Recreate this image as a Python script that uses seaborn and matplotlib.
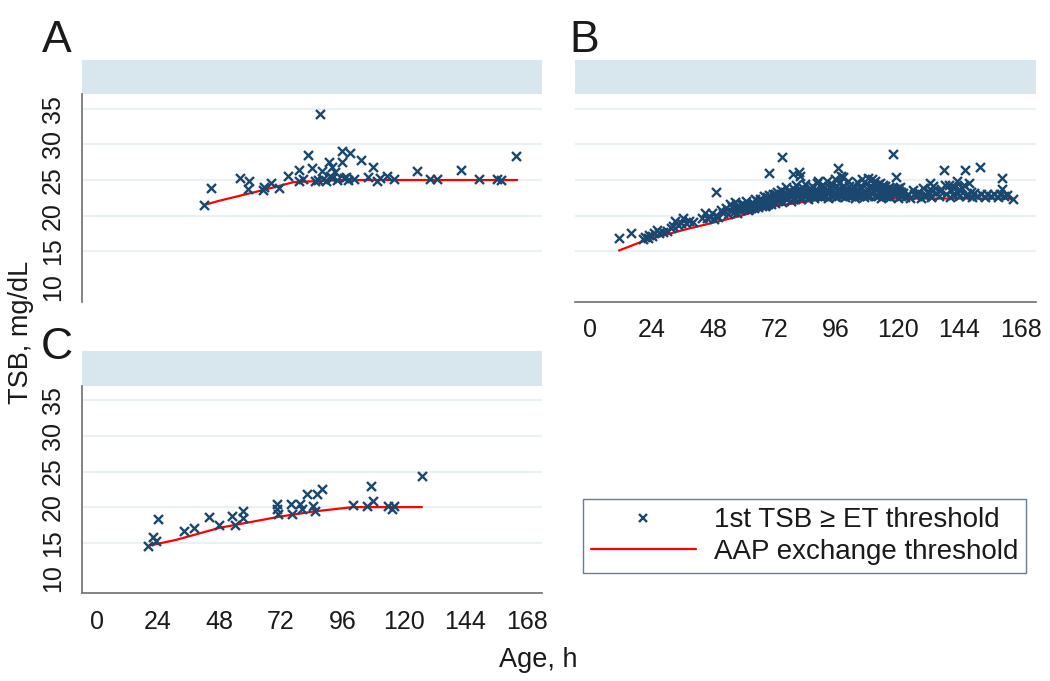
import seaborn as sns
import matplotlib.pyplot as plt
from matplotlib.lines import Line2D

# ============================================================
# 1. DATA
# ============================================================
# Panel A - first TSB at/above exchange threshold
a_age = [42.0, 44.5, 56.0, 59.5, 59.0, 65.1, 68.0, 65.5, 71.2, 74.8,
         78.8, 79.0, 82.4, 84.0, 87.0, 85.2, 86.5, 87.9, 88.5, 89.5,
         90.7, 91.8, 93.1, 92.0, 94.0, 95.9, 95.9, 96.7, 98.0, 98.9,
         97.5, 103.2, 105.9, 108.0, 109.4, 110.5, 113.5, 116.0, 125.0,
         130.2, 133.0, 142.2, 149.3, 156.3, 158.0, 163.8, 80.5, 91.0, 100.5]
a_tsb = [21.5, 23.9, 25.3, 24.9, 23.7, 23.6, 24.6, 24.0, 23.9, 25.6,
         24.9, 26.4, 28.5, 26.7, 34.3, 24.8, 25.0, 26.2, 25.2, 24.9,
         27.5, 26.8, 26.1, 25.3, 25.0, 29.1, 27.6, 25.3, 25.0, 28.8,
         25.4, 27.8, 25.4, 26.9, 24.9, 25.3, 25.6, 25.1, 26.2,
         25.1, 25.1, 26.4, 25.1, 25.1, 25.0, 28.4, 25.1, 25.6, 25.2]
a_line_age = [42.0, 48.0, 65.1, 76.8, 95.0, 164.2]
a_line_tsb = [21.5, 22.1, 23.6, 24.7, 25.0, 25.0]

# Panel B
b_age = [11.3, 16.0, 20.5, 21.5, 22.5, 23.0, 24.0, 25.0, 26.2, 27.0,
         28.5, 30.0, 31.5, 32.5, 33.1, 34.3, 35.5, 36.4, 37.5, 38.6,
         40.0, 43.5, 44.7, 45.5, 46.7, 47.5, 48.2, 49.0, 49.2, 50.0,
         51.2, 52.0,
         53.0, 54.0, 54.5, 55.0, 55.5, 56.0, 56.5, 57.0, 57.5, 58.0,
         58.5, 59.0, 59.6, 60.0, 60.5, 61.0, 61.5, 62.2, 62.5, 63.0,
         63.5, 64.0, 64.5, 65.0, 65.5, 66.0, 66.5, 67.0, 67.5, 68.0,
         68.5, 69.0, 69.5, 69.8, 70.0, 70.5, 71.0, 71.5, 72.0, 72.5,
         73.0, 73.5, 74.0, 74.5, 75.0, 75.0, 75.5, 76.0, 76.5, 77.0,
         77.5, 78.0, 78.5, 79.1, 79.0, 79.5, 80.0, 80.5, 81.0, 81.6,
         81.9, 82.0, 82.5, 83.0, 83.5, 84.0, 84.5, 85.0, 85.5, 86.0,
         86.5, 87.0, 87.5, 88.4, 88.0, 88.5, 89.0, 89.5, 90.0, 90.5,
         91.0, 91.5, 92.0, 92.5, 93.0,
         93.5, 94.0, 94.5, 95.0, 95.5, 96.0, 96.8, 96.5, 97.0, 97.5,
         98.0, 98.7, 98.5, 99.0, 99.5, 100.0, 100.5, 101.0, 101.5, 102.0,
         102.5, 103.0, 103.5, 104.0, 104.5, 105.0, 105.5, 106.0, 106.5, 107.0,
         107.5, 108.0, 108.5, 109.0, 109.9, 110.0, 110.5, 111.0, 111.5, 112.0,
         112.5, 113.0, 113.5, 114.0, 114.5, 115.0, 115.5, 116.0, 116.5, 117.0,
         117.5, 118.1, 118.5, 119.3, 119.5, 120.0, 120.5, 121.0, 121.5, 122.0,
         123.0, 124.0, 125.0, 126.0, 127.0, 128.0, 129.0, 130.0, 131.0, 132.0,
         132.6, 133.0, 134.0, 135.0, 136.0, 137.0, 138.1, 138.5, 139.0, 140.0,
         140.5, 141.0, 142.0, 143.0, 143.5, 144.0, 145.0, 146.0, 146.4, 147.0,
         148.0, 149.0, 150.0, 151.0, 152.1, 152.5, 154.0, 155.0, 156.5, 157.5,
         159.0, 160.0, 160.8, 160.8, 161.5, 162.5, 165.1,
         58.2, 60.2, 61.8, 63.2, 64.2, 65.8, 67.2, 68.2, 69.2, 70.2,
         71.2, 72.2, 73.2, 74.2, 75.2, 76.2, 77.2, 78.2, 79.2, 80.2,
         81.2, 82.2, 83.2, 84.2, 85.2, 86.2, 87.2, 88.2, 89.2, 90.2,
         91.2, 93.2, 94.2, 95.2, 96.2, 97.2, 98.2, 99.2, 100.2, 101.2,
         102.2, 103.2, 104.2, 105.2, 106.2, 107.2, 108.2, 109.2, 110.2, 111.2,
         112.2, 113.2, 114.2, 115.2, 116.2, 118.2, 119.0, 120.2, 121.2, 126.5,
         130.5, 133.5, 136.5, 141.5, 144.5, 146.8, 148.5]
b_tsb = [16.8, 17.5, 16.7, 17.0, 16.9, 17.3, 17.1, 17.6, 18.0, 17.6,
         17.7, 17.9, 18.3, 18.6, 19.3, 18.7, 18.9, 19.6, 19.0, 19.3,
         19.1, 19.7, 20.3, 19.7, 19.8, 20.4, 19.5, 23.3, 20.0, 19.8,
         20.8, 20.3,
         21.0, 20.2, 21.6, 20.6, 21.2, 20.5, 21.9, 21.0, 20.4, 21.4,
         20.8, 21.7, 21.6, 20.9, 21.2, 22.1, 20.8, 20.9, 21.5, 21.1,
         21.8, 21.0, 21.4, 22.0, 21.2, 21.6, 22.4, 21.3, 21.8, 22.7,
         21.5, 22.2, 21.6, 26.0, 22.9, 21.7, 22.4, 23.1, 21.8, 22.5,
         23.3, 22.0, 22.8, 23.6, 28.2, 21.9, 22.6, 23.2, 24.0, 22.3,
         22.9, 23.5, 22.1, 25.8, 23.0, 23.8, 22.4, 24.3, 22.8, 26.1,
         25.5, 23.4, 22.3, 23.9, 22.7, 24.5, 23.2, 22.4, 23.7, 22.9,
         24.1, 23.3, 22.5, 24.6, 23.8, 22.7, 24.9, 23.1, 22.6, 23.6,
         24.3, 22.8, 23.4, 24.8, 22.5,
         23.9, 22.7, 24.4, 23.2, 25.1, 22.6, 26.7, 23.6, 24.6, 22.9,
         25.5, 25.4, 23.4, 24.1, 22.6, 23.8, 24.9, 23.0, 23.5, 22.7,
         24.2, 23.3, 22.5, 24.7, 23.6, 22.8, 24.2, 25.1, 23.1, 22.6,
         24.5, 23.7, 25.3, 22.9, 25.1, 24.0, 23.4, 24.8, 22.7, 23.9,
         24.4, 23.2, 22.5, 23.8, 24.3, 23.6, 22.8, 23.3, 24.0, 22.6,
         23.5, 28.7, 23.1, 25.4, 23.8, 22.5, 23.4, 24.0, 22.8, 23.2,
         22.6, 23.1, 22.5, 23.6, 22.8, 23.3, 22.5, 23.9, 22.9, 23.5,
         24.6, 22.6, 24.1, 23.2, 22.7, 23.8, 26.4, 24.3, 23.0, 24.3,
         22.6, 23.6, 24.0, 24.9, 23.2, 22.7, 23.9, 24.3, 26.4, 23.1,
         24.6, 22.6, 23.2, 22.7, 26.9, 23.0, 22.6, 23.1, 22.7, 23.0,
         22.6, 23.0, 25.3, 23.7, 22.7, 22.9, 22.4,
         21.1, 21.5, 21.2, 21.6, 22.3, 21.9, 22.1, 21.4, 22.6, 21.9,
         22.0, 23.0, 22.4, 22.2, 23.0, 22.5, 23.5, 22.7, 22.4, 23.2,
         23.6, 22.6, 23.1, 22.9, 23.4, 23.7, 22.8, 23.2, 22.9, 24.1,
         23.1, 23.2, 23.9, 22.9, 24.2, 23.3, 22.8, 23.5, 22.9, 24.1,
         23.6, 22.9, 23.3, 23.9, 22.9, 23.4, 22.7, 24.1, 23.1, 23.7,
         22.8, 24.6, 23.0, 24.2, 22.7, 23.7, 22.9, 23.9, 23.3, 23.0,
         22.7, 23.4, 23.4, 22.9, 23.6, 22.8, 23.3]
b_line_age = [11.3, 22.1, 37.7, 55.9, 72.8, 92.9, 165.1]
b_line_tsb = [15.1, 16.6, 18.1, 19.7, 21.4, 22.4, 22.4]

# Panel C
c_age = [20.2, 21.9, 23.2, 23.8, 34.1, 38.0, 43.8, 47.8, 52.7, 54.0,
         57.0, 57.0, 70.3, 70.5, 70.9, 76.0, 76.2, 79.4, 80.1, 82.0,
         84.6, 85.3, 85.9, 88.1, 100.0, 105.7, 107.0, 108.0, 113.9, 115.9,
         115.2, 127.0]
c_tsb = [14.6, 15.8, 15.3, 18.4, 16.7, 17.1, 18.6, 17.5, 18.8, 17.5,
         19.4, 18.5, 20.4, 19.7, 19.0, 20.4, 19.1, 20.4, 19.7, 21.9,
         20.1, 19.4, 21.8, 22.5, 20.3, 20.1, 22.9, 20.8, 20.1, 20.2,
         19.8, 24.4]
c_line_age = [20.5, 31.0, 48.0, 72.0, 85.0, 100.0, 127.0]
c_line_tsb = [14.6, 15.4, 17.1, 18.7, 19.4, 20.0, 20.0]

x_ticks = [0, 24, 48, 72, 96, 120, 144, 168]
y_ticks = [10, 15, 20, 25, 30, 35]
legend_labels = ["1st TSB \u2265 ET threshold", "AAP exchange threshold"]

# ============================================================
# 2. STYLE
# ============================================================
sns.set_style("white")
plt.rcParams["font.family"] = ["Liberation Sans", "DejaVu Sans"]

MARK = "#1a476f"
GRID = "#e9f1f4"
HEAD = "#d8e6ed"
AXC = "#6e6e6e"
TXT = "#1a1a1a"
FS = 18

fig = plt.figure(figsize=(10.5, 6.81), dpi=100)

W, H = 1050.0, 681.0


def box(x0, y0, x1, y1):
    # pixel box (top-left origin) -> figure rect
    return [x0 / W, 1 - y1 / H, (x1 - x0) / W, (y1 - y0) / H]


def panel(px, py, age, tsb, line_age, line_tsb, letter, letter_xy, show_x, show_y):
    x0, x1 = px
    y0, y1 = py
    # header strip
    hax = fig.add_axes(box(x0, y0 - 34.3, x1, y0))
    hax.set_facecolor(HEAD)
    hax.set_xticks([])
    hax.set_yticks([])
    for s in hax.spines.values():
        s.set_visible(False)

    ax = fig.add_axes(box(x0, y0, x1, y1))
    for v in y_ticks[1:]:
        ax.axhline(v, color=GRID, linewidth=1.6, zorder=0)
    sns.lineplot(x=line_age, y=line_tsb, color="#ff0000", linewidth=1.6,
                 sort=False, estimator=None, ax=ax, zorder=2)
    sns.scatterplot(x=age, y=tsb, marker="x", s=42, color=MARK,
                    linewidth=1.7, ax=ax, zorder=3, legend=False)
    ax.set_xlim(-5.86, 174)
    ax.set_ylim(7.9, 37.05)
    ax.set_xlabel("")
    ax.set_ylabel("")
    for s in ["top", "right"]:
        ax.spines[s].set_visible(False)
    ax.spines["left"].set_visible(show_y)
    ax.spines["bottom"].set_visible(show_x)
    for s in ["left", "bottom"]:
        ax.spines[s].set_color(AXC)
        ax.spines[s].set_linewidth(1.2)

    if show_x:
        ax.set_xticks(x_ticks)
        ax.tick_params(axis="x", length=7, width=1.2, color=AXC, pad=5,
                       labelsize=FS, labelcolor=TXT)
    else:
        ax.set_xticks([])
    if show_y:
        ax.set_yticks(y_ticks)
        ax.tick_params(axis="y", length=5, width=1.2, color=AXC, pad=7,
                       labelsize=FS, labelcolor=TXT)
        plt.setp(ax.get_yticklabels(), rotation=90, va="center", ha="right")
    else:
        ax.set_yticks([])

    fig.text(letter_xy[0] / W, 1 - letter_xy[1] / H, letter, fontsize=32,
             color=TXT, ha="left", va="baseline")
    return ax


# ============================================================
# 3. PANELS
# ============================================================
ax_a = panel((81.7, 542.3), (94.3, 301.7), a_age, a_tsb,
             a_line_age, a_line_tsb, "A", (42, 52), False, True)
ax_b = panel((575, 1036), (94.3, 301.7), b_age, b_tsb,
             b_line_age, b_line_tsb, "B", (569, 52), True, False)
ax_c = panel((81.7, 542.3), (385.7, 593.3), c_age, c_tsb,
             c_line_age, c_line_tsb, "C", (41, 359), True, True)

fig.text(21 / W, 1 - 332 / H, "TSB, mg/dL", rotation=90, fontsize=19.5,
         color=TXT, ha="center", va="center")
fig.text(538 / W, 1 - 660 / H, "Age, h", fontsize=19.5, color=TXT,
         ha="center", va="center")

# ============================================================
# 4. LEGEND
# ============================================================
handles = [
    Line2D([], [], linestyle="none", marker="x", markersize=6,
           markeredgewidth=1.7, color=MARK),
    Line2D([], [], color="#ff0000", linewidth=1.6),
]
leg = fig.legend(handles, legend_labels, loc="upper left",
                 bbox_to_anchor=(583 / W, 1 - 499 / H), borderaxespad=0,
                 fontsize=20, frameon=True, fancybox=False,
                 handlelength=3.75, handletextpad=0.65, borderpad=0.3,
                 labelspacing=0.2, labelcolor=TXT)
leg.get_frame().set_edgecolor("#3f5f80")
leg.get_frame().set_linewidth(1.0)

plt.savefig("out.png", dpi=100)
plt.close()
